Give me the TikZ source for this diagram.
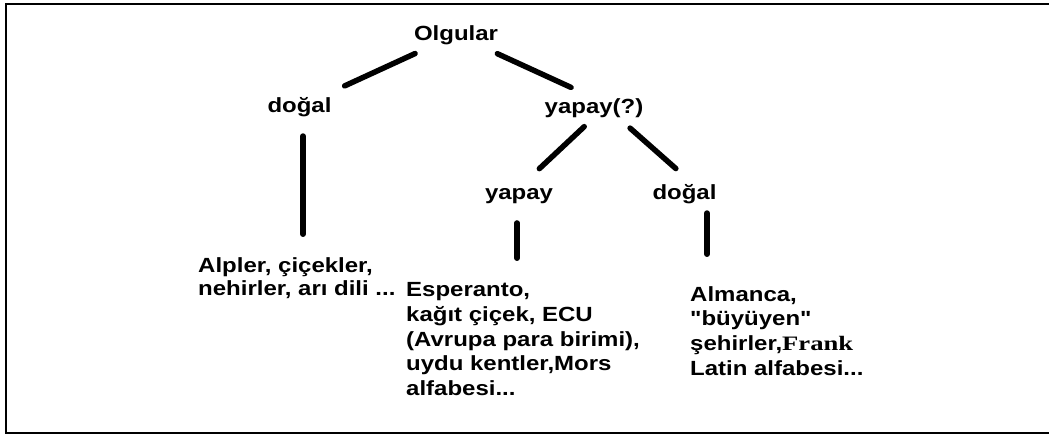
\documentclass[tikz,border=0pt]{standalone}
\usepackage{fontspec}
\newfontfamily\labfont{Liberation Sans}[FakeStretch=1.17]
\newfontfamily\frkfont{Liberation Serif}[FakeStretch=1.3]
\begin{document}
\begin{tikzpicture}[x=1pt,y=-1pt,
  lab/.style={inner sep=0pt,font=\labfont\bfseries\fontsize{20.5}{23}\selectfont},
  blk/.style={lab,align=left,anchor=north west},
  blkwide/.style={blk,font=\labfont\bfseries\fontsize{20.5}{24.7}\selectfont},
  conn/.style={line width=5.5pt,line cap=round},
  frame/.style={line width=2pt}]
\useasboundingbox (0,0) rectangle (1049,434);
\draw[frame] (1052,4) -- (5.5,4) -- (5.5,432.5) -- (1052,432.5);
% nodes
\node[lab,anchor=base] (o) at (456,40) {Olgular};
\node[lab,anchor=base] (d) at (299.5,112) {doğal};
\node[lab,anchor=base] (yq) at (594,113) {yapay(?)};
\node[lab,anchor=base] (yp) at (519,199) {yapay};
\node[lab,anchor=base] (d2) at (684.5,199) {doğal};
\node[blk] (al) at (198,257.1) {Alpler, çiçekler,\\nehirler, arı dili ...};
\node[blkwide] (es) at (406,282.3) {Esperanto,\\kağıt çiçek, ECU\\(Avrupa para birimi),\\uydu kentler,Mors\\alfabesi...};
\node[blkwide] (am) at (690,286.1) {Almanca,\\"büyüyen"\\şehirler,{\frkfont\bfseries\fontsize{20.5}{24.7}\selectfont Frank}\\Latin alfabesi...};
% connectors
\draw[conn,shorten <=45pt,shorten >=49.7pt] (o.center) -- (d.center);
\draw[conn,shorten <=45.5pt,shorten >=25.3pt] (o.center) -- (yq.north);
\draw[conn,shorten <=13.4pt,shorten >=27.9pt] (yq.south) -- (yp.north);
\draw[conn,shorten <=16.1pt,shorten >=22.9pt] ([xshift=24pt]yq.south) -- ([xshift=8.5pt]d2.north);
\draw[conn,shorten <=19.5pt,shorten >=22.9pt] ([xshift=3.5pt]d.south) -- ([xshift=3.5pt]d.south |- al.north);
\draw[conn,shorten <=19.5pt,shorten >=24.1pt] ([xshift=-2pt]yp.south) -- ([xshift=-2pt]yp.south |- es.north);
\draw[conn,shorten <=9.5pt,shorten >=31.9pt] ([xshift=22.5pt]d2.south) -- ([xshift=22.5pt]d2.south |- am.north);
\end{tikzpicture}
\end{document}
